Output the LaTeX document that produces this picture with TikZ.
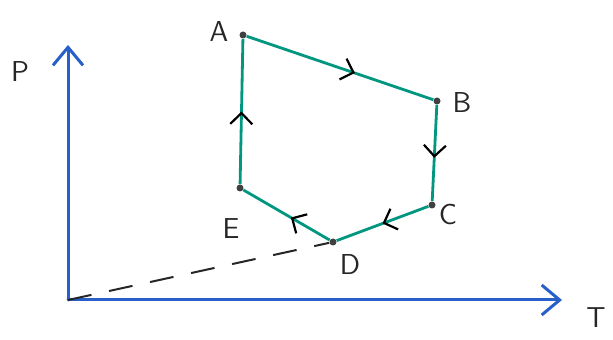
\documentclass[tikz,border=0pt]{standalone}
\usepackage{xcolor}
\usepackage{tikz}
\usetikzlibrary{arrows.meta,decorations.markings}

\definecolor{axisblue}{RGB}{40,95,200}
\definecolor{cycgreen}{RGB}{0,150,128}

\begin{document}
\begin{tikzpicture}[
  x=0.5pt, y=-0.5pt,
  axis/.style={draw=axisblue, line width=1.5pt, line cap=round,
    -{Straight Barb[length=9pt,width=15pt,line width=1.5pt]}},
  cyc/.style={draw=cycgreen, line width=1.4pt},
  midarrow/.style={postaction={decorate, decoration={markings,
    mark=at position #1 with {\arrow[black, line width=1.1pt]{Straight Barb[length=5.5pt,width=11pt]}}}}},
  dot/.style={circle, fill=black!75, inner sep=0pt, minimum size=3.5pt},
  lbl/.style={font=\sffamily\Large, text=black!85}
]
  \useasboundingbox (0,0) rectangle (613,340);

  % axes
  \coordinate (O) at (68,300);
  \coordinate (Ptop) at (68,45);
  \coordinate (Tend) at (562,300);
  \draw[axis] (O) -- (Ptop);
  \draw[axis] (O) -- (Tend);
  \node[lbl] (Plbl) at (20,72) {P};
  \node[lbl] (Tlbl) at (596,318) {T};

  % cycle states
  \foreach \name/\x/\y in {A/243/35, B/437/101, C/432/205, D/333/242, E/240/188}
    \node[dot] (\name) at (\x,\y) {};

  \foreach \name/\x/\y in {A/219/32, B/462/103, C/448/215, D/350/265, E/231/229}
    \node[lbl] (lbl\name) at (\x,\y) {\name};

  % process lines
  \draw[cyc, midarrow=0.58] (A) -- (B);
  \draw[cyc, midarrow=0.55] (B) -- (C);
  \draw[cyc, midarrow=0.5] (C) -- (D);
  \draw[cyc, midarrow=0.45] (D) -- (E);
  \draw[cyc, midarrow=0.5] (E) -- (A);

  % dashed line to origin
  \draw[black!85, line width=1pt, dash pattern=on 12pt off 9pt] (O) -- (D);
\end{tikzpicture}
\end{document}
